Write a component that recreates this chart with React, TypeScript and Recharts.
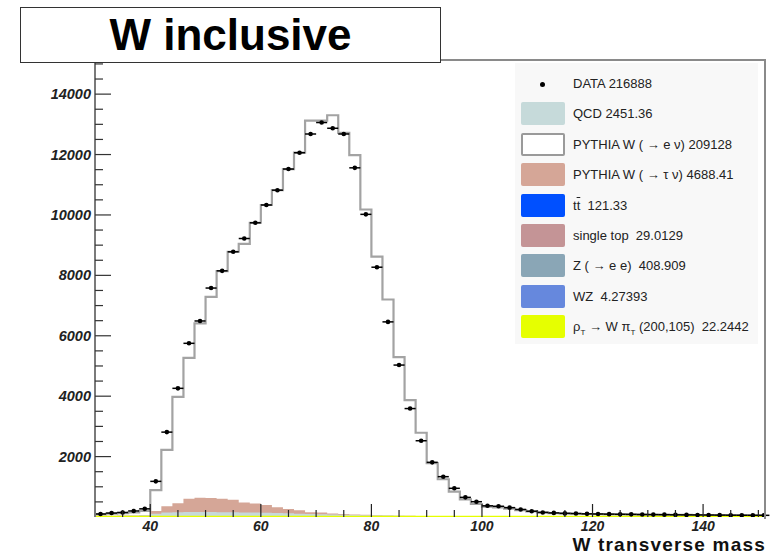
import React from 'react';
import { ComposedChart, Area, Scatter, ErrorBar, XAxis, YAxis } from 'recharts';

// 2 GeV bins, low edges
const binEdges = [
  30, 32, 34, 36, 38, 40, 42, 44, 46, 48, 50, 52, 54, 56, 58, 60, 62, 64, 66, 68,
  70, 72, 74, 76, 78, 80, 82, 84, 86, 88, 90, 92, 94, 96, 98, 100, 102, 104, 106, 108,
  110, 112, 114, 116, 118, 120, 122, 124, 126, 128, 130, 132, 134, 136, 138, 140, 142, 144, 146, 148,
  150,
];
const BIN_WIDTH = 2;

const dataCounts = [
  100, 130, 150, 200, 270, 1180, 2810, 4260, 5750, 6490,
  7580, 8150, 8780, 9220, 9740, 10330, 10820, 11520, 12060, 12680,
  13060, 12870, 12680, 11560, 10020, 8270, 6460, 5030, 3590, 2525,
  1810, 1335, 950, 650, 506, 370, 355, 310, 250, 190,
  150, 135, 120, 115, 105, 100, 95, 90, 88, 82,
  80, 78, 72, 70, 68, 65, 62, 60, 58, 56,
  55,
];

const wenu = [
  52, 67, 77, 96, 135, 692, 1864, 3522, 4666, 5775,
  6659, 7533, 8207, 8562, 9296, 9930, 10499, 11259, 11839, 12959,
  12972, 13186, 12619, 11898, 10108, 8559, 7148, 5245, 3831, 2756,
  1751, 1225, 818, 566, 413, 325, 306, 267, 220, 175,
  141, 121, 111, 101, 93, 90, 85, 81, 77, 73,
  71, 68, 66, 64, 62, 59, 57, 55, 53, 51,
  49,
];

const qcd = [
  30, 34, 38, 42, 50, 100, 135, 145, 150, 150,
  145, 140, 135, 130, 125, 120, 110, 100, 90, 80,
  72, 64, 56, 48, 42, 36, 30, 26, 22, 19,
  16, 14, 12, 10, 9, 8, 7, 6, 5, 5,
  4, 4, 3, 3, 3, 2, 2, 2, 2, 2,
  1, 1, 1, 1, 1, 1, 1, 1, 1, 1,
  1,
];

const wtau = [
  5, 6, 7, 8, 10, 90, 210, 300, 440, 470,
  470, 450, 420, 330, 300, 260, 190, 140, 110, 60,
  55, 30, 25, 15, 12, 8, 6, 5, 4, 3,
  3, 2, 2, 2, 1, 1, 1, 1, 1, 1,
  1, 0, 0, 0, 0, 0, 0, 0, 0, 0,
  0, 0, 0, 0, 0, 0, 0, 0, 0, 0,
  0,
];

const zee = [
  2, 2, 2, 2, 3, 6, 8, 10, 11, 12,
  13, 14, 15, 15, 16, 16, 17, 17, 17, 17,
  17, 16, 16, 15, 14, 13, 12, 10, 9, 8,
  7, 6, 5, 4, 4, 3, 3, 3, 2, 2,
  2, 2, 2, 1, 1, 1, 1, 1, 1, 1,
  1, 1, 1, 1, 1, 1, 1, 1, 1, 1,
  1,
];

const ttbar = [
  0.5, 0.6, 0.8, 1, 1.2, 1.5, 1.7, 1.9, 2.1, 2.3,
  2.4, 2.5, 2.6, 2.7, 2.8, 2.8, 2.9, 2.9, 3, 3,
  3, 3, 3, 3, 3, 2.9, 2.9, 2.8, 2.8, 2.7,
  2.6, 2.5, 2.5, 2.4, 2.3, 2.2, 2.1, 2, 2, 1.9,
  1.8, 1.7, 1.6, 1.5, 1.5, 1.4, 1.3, 1.2, 1.2, 1.1,
  1, 1, 0.9, 0.9, 0.8, 0.8, 0.7, 0.7, 0.6, 0.6,
  0.5,
];

const singleTop = [
  0.1, 0.1, 0.2, 0.2, 0.3, 0.4, 0.5, 0.5, 0.6, 0.6,
  0.7, 0.7, 0.7, 0.7, 0.7, 0.7, 0.7, 0.7, 0.7, 0.7,
  0.7, 0.7, 0.7, 0.6, 0.6, 0.6, 0.6, 0.6, 0.5, 0.5,
  0.5, 0.5, 0.5, 0.5, 0.4, 0.4, 0.4, 0.4, 0.4, 0.4,
  0.3, 0.3, 0.3, 0.3, 0.3, 0.3, 0.3, 0.3, 0.2, 0.2,
  0.2, 0.2, 0.2, 0.2, 0.2, 0.2, 0.2, 0.1, 0.1, 0.1,
  0.1,
];

const wz = [
  0, 0, 0, 0, 0, 0.02, 0.04, 0.05, 0.06, 0.07,
  0.08, 0.08, 0.09, 0.09, 0.1, 0.1, 0.1, 0.1, 0.1, 0.1,
  0.1, 0.1, 0.1, 0.1, 0.1, 0.1, 0.1, 0.1, 0.1, 0.1,
  0.1, 0.1, 0.1, 0.1, 0.1, 0.1, 0.1, 0.1, 0.1, 0.1,
  0.09, 0.09, 0.08, 0.08, 0.07, 0.07, 0.06, 0.06, 0.05, 0.05,
  0.05, 0.04, 0.04, 0.04, 0.03, 0.03, 0.03, 0.02, 0.02, 0.02,
  0.02,
];

const rhoT = [
  0.1, 0.1, 0.1, 0.2, 0.2, 0.3, 0.3, 0.3, 0.4, 0.4,
  0.4, 0.5, 0.5, 0.5, 0.5, 0.6, 0.6, 0.6, 0.6, 0.6,
  0.6, 0.6, 0.6, 0.6, 0.6, 0.5, 0.5, 0.5, 0.5, 0.5,
  0.4, 0.4, 0.4, 0.4, 0.4, 0.4, 0.3, 0.3, 0.3, 0.3,
  0.3, 0.3, 0.3, 0.3, 0.2, 0.2, 0.2, 0.2, 0.2, 0.2,
  0.2, 0.2, 0.2, 0.1, 0.1, 0.1, 0.1, 0.1, 0.1, 0.1,
  0.1,
];

const xTickValues = [
  35, 40, 45, 50, 55, 60, 65, 70, 75, 80, 85, 90, 95, 100, 105, 110, 115, 120, 125, 130,
  135, 140, 145, 150,
];
const yTickValues = Array.from({ length: 30 }, (_, i) => (i + 1) * 500);

const X_MIN = 30;
const X_MAX = 151.2;
const Y_MAX = 15130;

const FONT = '"Liberation Sans", Arial, Helvetica, sans-serif';

// stack order, bottom to top
const stackSeries = [
  { key: 'rho', values: rhoT, fill: '#e6ff00', stroke: '#e6ff00' },
  { key: 'wz', values: wz, fill: '#6688dd', stroke: 'none' },
  { key: 'zee', values: zee, fill: '#8aa6b6', stroke: 'none' },
  { key: 'stop', values: singleTop, fill: '#c49496', stroke: 'none' },
  { key: 'tt', values: ttbar, fill: '#0050ff', stroke: 'none' },
  { key: 'qcd', values: qcd, fill: '#c6dada', stroke: 'none' },
  { key: 'tau', values: wtau, fill: '#d5a697', stroke: 'none' },
  { key: 'wenu', values: wenu, fill: '#ffffff', stroke: '#a3a3a3' },
];

// cumulative sums per bin, plus a closing row at the last upper edge
const stackRows = binEdges.map((edge, i) => {
  const row: Record<string, number> = { x: edge };
  let sum = 0;
  stackSeries.forEach((s) => {
    sum += s.values[i];
    row[s.key] = sum;
  });
  return row;
});
stackRows.push({ ...stackRows[stackRows.length - 1], x: binEdges[binEdges.length - 1] + BIN_WIDTH });

const dataPoints = binEdges.map((edge, i) => ({
  x: edge + BIN_WIDTH / 2,
  y: dataCounts[i],
  xerr: BIN_WIDTH / 2,
}));

const legendEntries = [
  { kind: 'dot', label: <>DATA 216888</> },
  { kind: 'box', fill: '#c6dada', label: <>QCD 2451.36</> },
  { kind: 'box', fill: '#ffffff', border: '#9a9a9a', label: <>PYTHIA W ( → e ν) 209128</> },
  { kind: 'box', fill: '#d5a697', label: <>PYTHIA W ( → τ ν) 4688.41</> },
  {
    kind: 'box',
    fill: '#0050ff',
    label: (
      <>
        t<span style={{ textDecoration: 'overline' }}>t</span>&nbsp; 121.33
      </>
    ),
  },
  { kind: 'box', fill: '#c49496', label: <>single top&nbsp; 29.0129</> },
  { kind: 'box', fill: '#8aa6b6', label: <>Z ( → e e)&nbsp; 408.909</> },
  { kind: 'box', fill: '#6688dd', label: <>WZ&nbsp; 4.27393</> },
  {
    kind: 'box',
    fill: '#e6ff00',
    label: (
      <>
        ρ<sub style={{ fontSize: 8 }}>T</sub> → W π<sub style={{ fontSize: 8 }}>T</sub> (200,105)&nbsp; 22.2442
      </>
    ),
  },
];

function XTick(props: any) {
  const { x, y, payload } = props;
  const v = payload.value;
  const major = v % 20 === 0;
  return (
    <g>
      <line x1={x} x2={x} y1={y} y2={y - (major ? 13 : 7)} stroke="#222" strokeWidth={1.2} />
      {major && (
        <text
          x={x}
          y={y + 14}
          textAnchor="middle"
          fontFamily={FONT}
          fontSize={14}
          fontWeight="bold"
          fontStyle="italic"
          fill="#222"
        >
          {v}
        </text>
      )}
    </g>
  );
}

function YTick(props: any) {
  const { x, y, payload } = props;
  const v = payload.value;
  const major = v % 2000 === 0;
  return (
    <g>
      <line x1={x} x2={x + (major ? 16 : 8)} y1={y} y2={y} stroke="#333" strokeWidth={1.2} />
      {major && (
        <text
          x={x - 4}
          y={y + 5}
          textAnchor="end"
          fontFamily={FONT}
          fontSize={14.5}
          fontWeight="bold"
          fontStyle="italic"
          fill="#222"
        >
          {v}
        </text>
      )}
    </g>
  );
}

function Legend() {
  return (
    <div
      style={{
        position: 'absolute',
        left: 515,
        top: 63,
        width: 243,
        height: 281,
        background: '#f8f8f8',
        fontFamily: FONT,
        fontSize: 13,
        color: '#222',
      }}
    >
      {legendEntries.map((e, i) => (
        <div
          key={i}
          style={{ position: 'absolute', left: 0, top: 6 + i * 30.4, height: 30, width: 243 }}
        >
          {e.kind === 'dot' ? (
            <div
              style={{
                position: 'absolute',
                left: 25,
                top: 13,
                width: 5,
                height: 5,
                borderRadius: 3,
                background: '#000',
              }}
            />
          ) : (
            <div
              style={{
                position: 'absolute',
                left: 6,
                top: 3,
                width: 44,
                height: 23,
                boxSizing: 'border-box',
                borderRadius: 2,
                background: e.fill,
                border: e.border ? `2px solid ${e.border}` : 'none',
              }}
            />
          )}
          <div style={{ position: 'absolute', left: 58, top: 7, whiteSpace: 'nowrap' }}>{e.label}</div>
        </div>
      ))}
    </div>
  );
}

export default function App() {
  return (
    <div style={{ position: 'absolute', left: 0, top: 0, width: 770, height: 554, background: '#fff' }}>
      <ComposedChart
        width={770}
        height={554}
        data={stackRows}
        margin={{ top: 60, right: 5, bottom: 7, left: 35 }}
      >
        <XAxis
          type="number"
          dataKey="x"
          domain={[X_MIN, X_MAX]}
          allowDataOverflow
          ticks={xTickValues}
          interval={0}
          height={30}
          tickSize={0}
          tickMargin={0}
          tick={(p: any) => <XTick {...p} />}
          axisLine={false}
        />
        <YAxis
          type="number"
          domain={[0, Y_MAX]}
          allowDataOverflow
          ticks={yTickValues}
          interval={0}
          width={60}
          tickSize={0}
          tickMargin={0}
          tick={(p: any) => <YTick {...p} />}
          axisLine={{ stroke: '#7a7a7a', strokeWidth: 2 }}
        />
        {[...stackSeries].reverse().map((s) => (
          <Area
            key={s.key}
            type="stepAfter"
            dataKey={s.key}
            fill={s.fill}
            fillOpacity={1}
            stroke={s.stroke}
            strokeWidth={s.key === 'wenu' ? 2.2 : 2.5}
            dot={false}
            activeDot={false}
            isAnimationActive={false}
          />
        ))}
        <Scatter
          data={dataPoints}
          dataKey="y"
          isAnimationActive={false}
          shape={(p: any) => <circle cx={p.cx} cy={p.cy} r={2.3} fill="#000" />}
        >
          <ErrorBar dataKey="xerr" direction="x" width={0} stroke="#000" strokeWidth={1.5} />
        </Scatter>
      </ComposedChart>

      {/* frame: top and right edges */}
      <div
        style={{
          position: 'absolute',
          left: 95,
          top: 59,
          width: 669,
          height: 458,
          borderTop: '2px solid #8a8a8a',
          borderRight: '2px solid #8a8a8a',
          pointerEvents: 'none',
        }}
      />

      <Legend />

      <div
        style={{
          position: 'absolute',
          left: 20,
          top: 7,
          width: 421,
          height: 56,
          boxSizing: 'border-box',
          border: '1.5px solid #333',
          background: '#fff',
          fontFamily: FONT,
          fontWeight: 'bold',
          fontSize: 44,
          lineHeight: '53px',
          textAlign: 'center',
          color: '#000',
        }}
      >
        W inclusive
      </div>

      <div
        style={{
          position: 'absolute',
          right: 4,
          top: 534,
          fontFamily: FONT,
          fontWeight: 'bold',
          fontSize: 19,
          lineHeight: '21px',
          letterSpacing: 1.2,
          color: '#111',
          whiteSpace: 'nowrap',
        }}
      >
        W transverse mass
      </div>
    </div>
  );
}
